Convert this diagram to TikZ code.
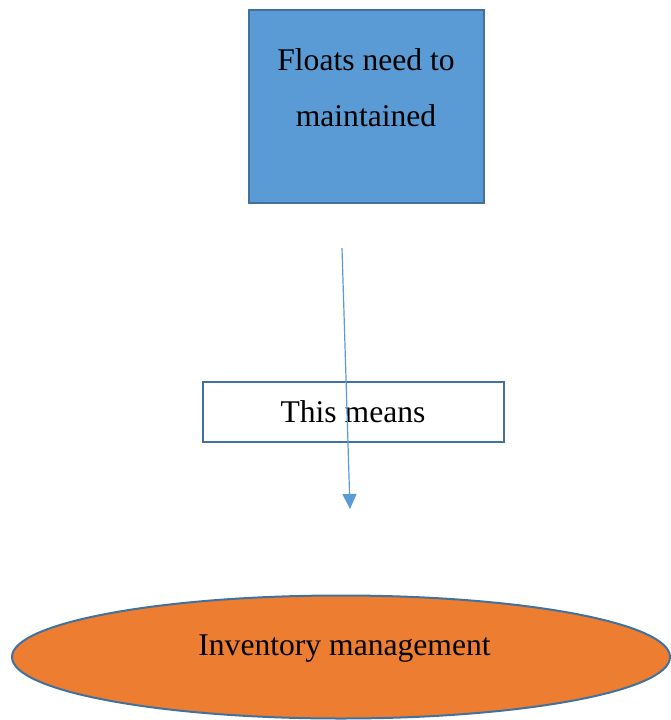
\documentclass[tikz,border=0pt]{standalone}
\usepackage{fontspec}
\setmainfont{Liberation Serif}
\usetikzlibrary{arrows.meta,shapes.geometric}
\begin{document}
\begin{tikzpicture}[x=1pt,y=-1pt,
  edgeblue/.style={draw={rgb,255:red,65;green,113;blue,156},line width=2pt},
  label/.style={font=\fontsize{31.6}{55}\selectfont,inner sep=0pt,align=center},
  flow/.style={draw={rgb,255:red,91;green,155;blue,213},line width=1.2pt,
    -{Triangle[width=14pt,length=15pt]}}]
  \useasboundingbox (0,0) rectangle (671,720);
  % top box
  \node[edgeblue,fill={rgb,255:red,91;green,155;blue,213},rectangle,
        minimum width=235pt,minimum height=193pt,inner sep=0pt] (floats) at (366.5,106.5) {};
  \node[label,anchor=base] (floatsA) at (366,70) {Floats need to};
  \node[label,anchor=base] (floatsB) at (366,126) {maintained};
  % middle box
  \node[edgeblue,fill=white,rectangle,minimum width=301pt,minimum height=60pt,
        inner sep=0pt] (means) at (353.5,412) {};
  \node[label,anchor=base] (meansT) at (353,422) {This means};
  % connector
  \coordinate (from) at (342,248);
  \coordinate (to) at (350,509);
  \draw[flow] (from) -- (to);
  % ellipse
  \node[edgeblue,fill={rgb,255:red,237;green,125;blue,49},ellipse,
        minimum width=658pt,minimum height=123pt,inner sep=0pt] (inv) at (341,657) {};
  \node[label,anchor=base] (invT) at (344.5,655) {Inventory management};
\end{tikzpicture}
\end{document}
